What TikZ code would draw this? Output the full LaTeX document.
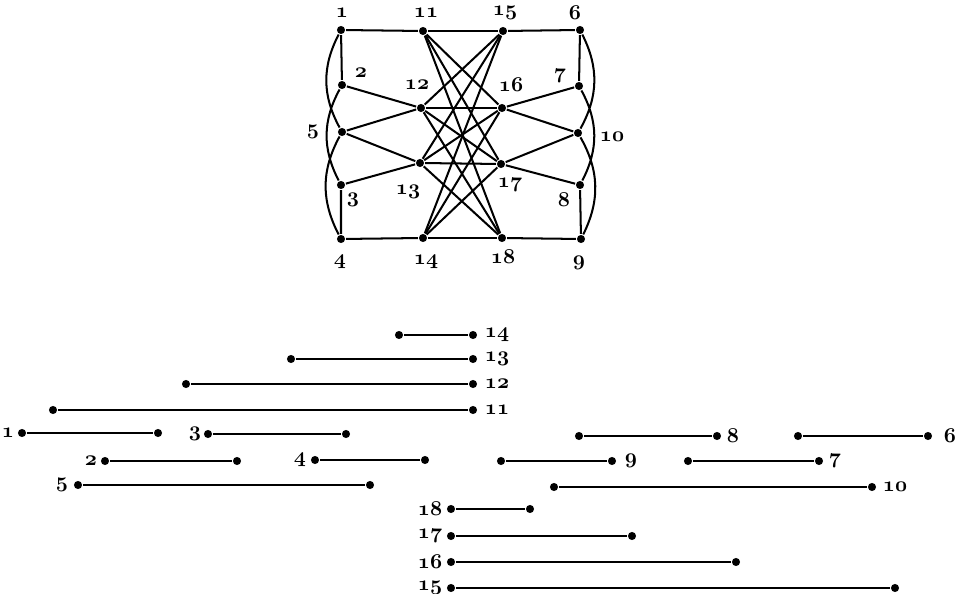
\documentclass[tikz,border=0pt]{standalone}
\usepackage{tikz}
\newcommand{\olab}[1]{{\usefont{OML}{cmm}{b}{it}#1}}

\begin{document}
\begin{tikzpicture}[x=0.02cm, y=-0.02cm, line width=1.15pt,
  vtx/.style={circle, fill, inner sep=0pt, minimum size=4.6pt},
  lbl/.style={font=\fontsize{11.5}{12}\selectfont, inner sep=1pt}]
\useasboundingbox (0,0) rectangle (958,594);
% the graph
\foreach \n/\x/\y/\lx/\ly in {1/341/30/342/13, 2/342/85/361/73, 3/341/185/353/200, 4/341/239/340/262,
  5/342/132/313/132, 6/580/30/575/13, 7/579/86/560/76, 8/580/185/564/200, 9/581/239/579/263,
  10/578/133/612/137, 11/423/31/426/13, 12/421/108/417/85, 13/420/163/408/192, 14/423/238/426/262,
  15/503/31/505/13, 16/502/108/511/85, 17/501/164/510/185, 18/502/238/503/257} {
  \node[vtx] (v\n) at (\x,\y) {};
  \node[lbl] (n\n) at (\lx,\ly) {\olab{\n}};
}
\draw (v1) -- (v11) (v15) -- (v6) (v4) -- (v14) (v18) -- (v9);
\draw (v1) -- (v2) (v3) -- (v4) (v6) -- (v7) (v8) -- (v9);
\draw (v1) to[bend right=28] (v5) (v2) to[bend right=28] (v3) (v5) to[bend right=28] (v4);
\draw (v6) to[bend left=28] (v10) (v7) to[bend left=28] (v8) (v10) to[bend left=28] (v9);
\draw (v2) -- (v12) (v5) -- (v12) (v5) -- (v13) (v3) -- (v13);
\draw (v7) -- (v16) (v10) -- (v16) (v10) -- (v17) (v8) -- (v17);
\foreach \a in {11,...,14} \foreach \b in {15,...,18} \draw (v\a) -- (v\b);
% the intervals
\foreach \n/\a/\b/\y/\lx in {1/22/158/433/8, 2/105/237/461/91, 3/208/346/434/195, 4/315/425/460/300,
  5/78/370/485/62, 15/451/895/588/430, 16/451/736/562/430, 17/451/632/536/430, 18/451/530/509/430,
  6/798/928/436/950, 7/688/819/461/835, 8/579/717/436/733, 9/501/612/461/631, 10/554/872/487/895,
  11/53/473/410/497, 12/186/473/384/497, 13/291/473/359/497, 14/399/473/335/497} {
  \node[vtx] (s\n) at (\a,\y) {};
  \node[vtx] (t\n) at (\b,\y) {};
  \draw[line width=1pt] (s\n) -- (t\n);
  \node[lbl] (i\n) at (\lx,\y) {\olab{\n}};
}
\end{tikzpicture}
\end{document}
